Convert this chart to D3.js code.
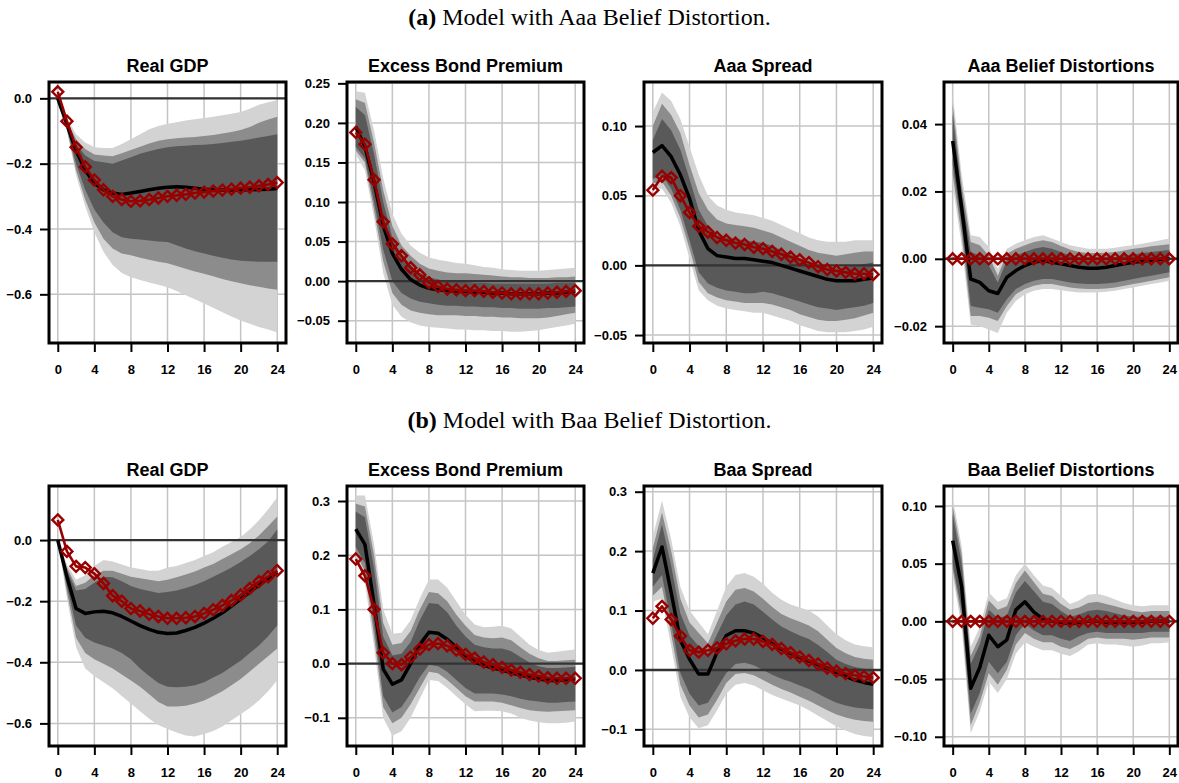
<!DOCTYPE html>
<html>
<head>
<meta charset="utf-8">
<script src="https://cdn.jsdelivr.net/npm/d3@7"></script>
<style>
  body { margin: 0; background: #fff; }
  svg text { font-family: "Liberation Sans", Arial, sans-serif; }
</style>
</head>
<body>
<script>
// horizons (quarters) and x tick labels
const horizon = d3.range(0, 25);
const xTicks = [0, 4, 8, 12, 16, 20, 24];

// ---- (a) Aaa model: Real GDP
const gdpA_model  = [0.02,-0.07,-0.15,-0.21,-0.25,-0.28,-0.30,-0.31,-0.315,-0.314,-0.31,-0.305,-0.30,-0.297,-0.294,-0.29,-0.287,-0.284,-0.281,-0.278,-0.275,-0.272,-0.268,-0.264,-0.258];
const gdpA_median = [0.0,-0.08,-0.16,-0.22,-0.26,-0.28,-0.29,-0.294,-0.29,-0.285,-0.28,-0.275,-0.272,-0.271,-0.272,-0.275,-0.278,-0.28,-0.281,-0.281,-0.28,-0.28,-0.279,-0.278,-0.276];
const gdpA_outerHi = [0,-0.06,-0.11,-0.135,-0.15,-0.152,-0.152,-0.14,-0.125,-0.11,-0.095,-0.085,-0.078,-0.073,-0.068,-0.064,-0.06,-0.056,-0.052,-0.047,-0.042,-0.032,-0.02,-0.012,-0.006];
const gdpA_midHi   = [0,-0.07,-0.125,-0.155,-0.172,-0.175,-0.177,-0.168,-0.158,-0.148,-0.138,-0.13,-0.125,-0.122,-0.12,-0.118,-0.115,-0.112,-0.108,-0.103,-0.097,-0.088,-0.075,-0.065,-0.056];
const gdpA_innerHi = [0,-0.075,-0.14,-0.175,-0.192,-0.196,-0.2,-0.19,-0.18,-0.17,-0.162,-0.155,-0.15,-0.147,-0.145,-0.143,-0.142,-0.14,-0.137,-0.133,-0.13,-0.125,-0.12,-0.115,-0.11];
const gdpA_innerLo = [0,-0.09,-0.2,-0.28,-0.34,-0.38,-0.41,-0.425,-0.43,-0.432,-0.435,-0.438,-0.44,-0.45,-0.46,-0.468,-0.475,-0.482,-0.488,-0.493,-0.497,-0.499,-0.5,-0.5,-0.5];
const gdpA_midLo   = [0,-0.095,-0.22,-0.31,-0.38,-0.43,-0.46,-0.475,-0.48,-0.488,-0.494,-0.5,-0.505,-0.513,-0.522,-0.53,-0.537,-0.545,-0.553,-0.56,-0.566,-0.572,-0.577,-0.582,-0.586];
const gdpA_outerLo = [0,-0.1,-0.235,-0.33,-0.41,-0.47,-0.51,-0.535,-0.548,-0.556,-0.564,-0.571,-0.578,-0.59,-0.603,-0.615,-0.628,-0.641,-0.655,-0.668,-0.68,-0.69,-0.7,-0.708,-0.717];
const gdpA_ticks = [-0.6, -0.4, -0.2, 0.0];

// ---- (a) Excess Bond Premium
const ebpA_model  = [0.188,0.173,0.128,0.075,0.047,0.032,0.017,0.008,-0.002,-0.007,-0.01,-0.011,-0.012,-0.012,-0.013,-0.014,-0.015,-0.016,-0.016,-0.016,-0.016,-0.015,-0.014,-0.013,-0.012];
const ebpA_median = [0.195,0.17,0.125,0.07,0.035,0.015,0.002,-0.005,-0.009,-0.011,-0.012,-0.013,-0.013,-0.014,-0.014,-0.015,-0.015,-0.016,-0.016,-0.016,-0.016,-0.015,-0.015,-0.014,-0.013];
const ebpA_outerHi = [0.24,0.238,0.19,0.13,0.085,0.06,0.045,0.036,0.03,0.027,0.025,0.023,0.022,0.02,0.018,0.017,0.015,0.014,0.013,0.013,0.013,0.014,0.015,0.016,0.017];
const ebpA_midHi   = [0.23,0.225,0.175,0.115,0.07,0.045,0.032,0.022,0.016,0.013,0.011,0.01,0.01,0.009,0.008,0.007,0.006,0.005,0.005,0.004,0.004,0.004,0.005,0.005,0.006];
const ebpA_innerHi = [0.22,0.21,0.16,0.1,0.055,0.032,0.02,0.01,0.005,0.002,0.0,-0.001,-0.001,-0.002,-0.002,-0.003,-0.003,-0.003,-0.003,-0.003,-0.003,-0.003,-0.002,-0.002,-0.002];
const ebpA_innerLo = [0.17,0.155,0.1,0.04,0.0,-0.015,-0.022,-0.026,-0.028,-0.03,-0.031,-0.031,-0.032,-0.032,-0.033,-0.033,-0.034,-0.034,-0.035,-0.035,-0.035,-0.034,-0.034,-0.033,-0.032];
const ebpA_midLo   = [0.165,0.15,0.09,0.025,-0.015,-0.03,-0.037,-0.04,-0.042,-0.043,-0.043,-0.043,-0.044,-0.044,-0.045,-0.045,-0.046,-0.046,-0.047,-0.047,-0.047,-0.046,-0.044,-0.042,-0.04];
const ebpA_outerLo = [0.16,0.14,0.08,0.01,-0.03,-0.045,-0.052,-0.056,-0.058,-0.059,-0.06,-0.061,-0.061,-0.062,-0.062,-0.063,-0.063,-0.064,-0.064,-0.063,-0.062,-0.06,-0.058,-0.056,-0.054];
const ebpA_ticks = [-0.05, 0.0, 0.05, 0.10, 0.15, 0.20, 0.25];

// ---- (a) Aaa Spread
const aaa_model  = [0.054,0.064,0.063,0.05,0.038,0.028,0.024,0.02,0.018,0.016,0.015,0.013,0.012,0.01,0.008,0.006,0.004,0.002,-0.001,-0.003,-0.004,-0.005,-0.006,-0.006,-0.0065];
const aaa_median = [0.081,0.086,0.078,0.065,0.048,0.025,0.012,0.007,0.006,0.005,0.005,0.004,0.003,0.002,0.0,-0.002,-0.004,-0.006,-0.008,-0.01,-0.011,-0.011,-0.011,-0.01,-0.009];
const aaa_outerHi = [0.11,0.124,0.118,0.105,0.085,0.065,0.05,0.043,0.04,0.038,0.037,0.036,0.034,0.032,0.029,0.026,0.023,0.02,0.018,0.017,0.017,0.017,0.018,0.018,0.018];
const aaa_midHi   = [0.1,0.116,0.108,0.095,0.072,0.052,0.04,0.033,0.03,0.029,0.028,0.027,0.025,0.023,0.02,0.017,0.014,0.011,0.009,0.008,0.007,0.008,0.009,0.01,0.01];
const aaa_innerHi = [0.09,0.105,0.097,0.083,0.062,0.04,0.028,0.022,0.02,0.019,0.018,0.017,0.016,0.014,0.011,0.008,0.005,0.002,0.0,-0.001,-0.002,-0.001,0.0,0.001,0.002];
const aaa_innerLo = [0.062,0.065,0.055,0.04,0.018,-0.005,-0.013,-0.016,-0.018,-0.019,-0.02,-0.02,-0.019,-0.02,-0.022,-0.024,-0.026,-0.028,-0.03,-0.031,-0.032,-0.031,-0.03,-0.029,-0.027];
const aaa_midLo   = [0.059,0.06,0.05,0.034,0.012,-0.012,-0.02,-0.023,-0.025,-0.026,-0.027,-0.027,-0.027,-0.028,-0.03,-0.032,-0.035,-0.037,-0.039,-0.04,-0.04,-0.039,-0.038,-0.036,-0.034];
const aaa_outerLo = [0.055,0.055,0.045,0.028,0.005,-0.018,-0.025,-0.029,-0.031,-0.032,-0.033,-0.034,-0.034,-0.036,-0.038,-0.04,-0.043,-0.045,-0.047,-0.048,-0.048,-0.048,-0.047,-0.046,-0.044];
const aaa_ticks = [-0.05, 0.0, 0.05, 0.10];

// ---- (a) Aaa Belief Distortions
const belA_model  = [0,0,0,0,0,0,0,0,0,0,0,0,0,0,0,0,0,0,0,0,0,0,0,0,0];
const belA_median = [0.035,0.015,-0.006,-0.007,-0.0095,-0.0103,-0.0055,-0.0035,-0.002,-0.001,-0.0005,-0.001,-0.0015,-0.002,-0.0025,-0.0028,-0.0028,-0.0025,-0.002,-0.0015,-0.001,-0.0007,-0.0004,-0.0002,0.0];
const belA_outerHi = [0.049,0.025,0.007,0.0065,0.0035,-0.003,0.003,0.0045,0.0055,0.0065,0.007,0.006,0.005,0.004,0.0035,0.003,0.003,0.003,0.0033,0.0037,0.004,0.0045,0.005,0.0055,0.006];
const belA_midHi   = [0.046,0.022,0.005,0.004,0.001,-0.005,0.0015,0.003,0.004,0.005,0.0055,0.005,0.0038,0.0028,0.002,0.0017,0.0017,0.0018,0.002,0.0025,0.003,0.0033,0.0037,0.004,0.0043];
const belA_innerHi = [0.043,0.019,0.002,0.001,-0.002,-0.007,-0.0005,0.001,0.002,0.003,0.0035,0.003,0.002,0.001,0.0003,0.0,0.0,0.0002,0.0005,0.001,0.0013,0.0017,0.002,0.0023,0.0026];
const belA_innerLo = [0.028,0.01,-0.014,-0.0145,-0.015,-0.016,-0.012,-0.009,-0.0075,-0.0065,-0.006,-0.006,-0.0065,-0.007,-0.0073,-0.0075,-0.0075,-0.0073,-0.007,-0.0065,-0.006,-0.0055,-0.005,-0.0045,-0.004];
const belA_midLo   = [0.025,0.007,-0.017,-0.017,-0.0175,-0.0185,-0.014,-0.0105,-0.009,-0.008,-0.0075,-0.0075,-0.008,-0.0085,-0.0088,-0.009,-0.009,-0.0088,-0.0085,-0.008,-0.0075,-0.007,-0.0065,-0.006,-0.0055];
const belA_outerLo = [0.022,0.004,-0.0195,-0.02,-0.021,-0.022,-0.016,-0.0125,-0.0105,-0.0095,-0.009,-0.009,-0.0093,-0.0097,-0.01,-0.01,-0.01,-0.0098,-0.0095,-0.009,-0.0085,-0.008,-0.0075,-0.007,-0.0065];
const belA_ticks = [-0.02, 0.0, 0.02, 0.04];

// ---- (b) Baa model: Real GDP
const gdpB_model  = [0.066,-0.037,-0.086,-0.09,-0.11,-0.142,-0.182,-0.2,-0.224,-0.232,-0.243,-0.25,-0.256,-0.256,-0.254,-0.25,-0.24,-0.228,-0.214,-0.198,-0.18,-0.158,-0.136,-0.12,-0.1];
const gdpB_median = [0.0,-0.12,-0.224,-0.24,-0.235,-0.233,-0.238,-0.25,-0.265,-0.28,-0.292,-0.302,-0.306,-0.304,-0.296,-0.286,-0.272,-0.256,-0.238,-0.216,-0.193,-0.17,-0.148,-0.125,-0.105];
const gdpB_outerHi = [0,-0.08,-0.13,-0.115,-0.085,-0.065,-0.07,-0.08,-0.09,-0.095,-0.1,-0.1,-0.09,-0.085,-0.075,-0.065,-0.052,-0.04,-0.022,-0.006,0.01,0.035,0.065,0.1,0.14];
const gdpB_midHi   = [0,-0.09,-0.15,-0.14,-0.115,-0.1,-0.1,-0.11,-0.12,-0.125,-0.13,-0.135,-0.13,-0.122,-0.113,-0.103,-0.09,-0.078,-0.062,-0.046,-0.03,-0.01,0.015,0.045,0.077];
const gdpB_innerHi = [0,-0.1,-0.165,-0.16,-0.14,-0.12,-0.122,-0.135,-0.15,-0.16,-0.167,-0.173,-0.17,-0.165,-0.157,-0.147,-0.135,-0.12,-0.105,-0.09,-0.072,-0.052,-0.03,-0.005,0.035];
const gdpB_innerLo = [0,-0.15,-0.28,-0.32,-0.335,-0.345,-0.355,-0.37,-0.39,-0.42,-0.445,-0.468,-0.48,-0.482,-0.48,-0.475,-0.465,-0.45,-0.435,-0.415,-0.395,-0.37,-0.345,-0.315,-0.28];
const gdpB_midLo   = [0,-0.17,-0.32,-0.37,-0.39,-0.405,-0.42,-0.44,-0.46,-0.48,-0.505,-0.53,-0.545,-0.545,-0.542,-0.535,-0.525,-0.51,-0.495,-0.475,-0.455,-0.43,-0.405,-0.38,-0.355];
const gdpB_outerLo = [0,-0.19,-0.35,-0.42,-0.445,-0.465,-0.485,-0.51,-0.535,-0.56,-0.585,-0.605,-0.618,-0.63,-0.64,-0.643,-0.635,-0.625,-0.61,-0.59,-0.57,-0.55,-0.525,-0.495,-0.46];
const gdpB_ticks = [-0.6, -0.4, -0.2, 0.0];

// ---- (b) Excess Bond Premium
const ebpB_model  = [0.193,0.162,0.1,0.02,0.0,-0.002,0.012,0.027,0.035,0.037,0.033,0.025,0.017,0.01,0.003,-0.002,-0.007,-0.012,-0.016,-0.02,-0.023,-0.026,-0.027,-0.027,-0.027];
const ebpB_median = [0.248,0.22,0.11,-0.01,-0.038,-0.03,0.0,0.035,0.058,0.056,0.045,0.03,0.015,0.003,-0.003,-0.008,-0.012,-0.017,-0.021,-0.025,-0.028,-0.031,-0.031,-0.03,-0.028];
const ebpB_outerHi = [0.31,0.31,0.22,0.1,0.055,0.057,0.08,0.12,0.155,0.155,0.14,0.115,0.09,0.072,0.067,0.068,0.07,0.065,0.05,0.035,0.025,0.02,0.022,0.024,0.026];
const ebpB_midHi   = [0.295,0.29,0.2,0.075,0.035,0.038,0.06,0.1,0.132,0.13,0.115,0.09,0.07,0.053,0.048,0.047,0.048,0.043,0.03,0.018,0.01,0.005,0.005,0.006,0.007];
const ebpB_innerHi = [0.28,0.27,0.175,0.05,0.015,0.018,0.04,0.08,0.112,0.11,0.095,0.07,0.05,0.035,0.03,0.028,0.028,0.023,0.012,0.002,-0.005,-0.008,-0.008,-0.007,-0.006];
const ebpB_innerLo = [0.215,0.185,0.07,-0.06,-0.09,-0.08,-0.055,-0.025,-0.002,-0.005,-0.015,-0.03,-0.045,-0.055,-0.055,-0.055,-0.057,-0.06,-0.065,-0.068,-0.07,-0.072,-0.072,-0.071,-0.07];
const ebpB_midLo   = [0.205,0.17,0.05,-0.08,-0.11,-0.1,-0.075,-0.045,-0.015,-0.018,-0.03,-0.045,-0.06,-0.07,-0.07,-0.07,-0.072,-0.077,-0.082,-0.086,-0.088,-0.089,-0.088,-0.087,-0.086];
const ebpB_outerLo = [0.19,0.15,0.03,-0.1,-0.133,-0.125,-0.1,-0.065,-0.03,-0.032,-0.045,-0.06,-0.075,-0.088,-0.087,-0.087,-0.088,-0.092,-0.1,-0.105,-0.108,-0.11,-0.11,-0.109,-0.107];
const ebpB_ticks = [-0.1, 0.0, 0.1, 0.2, 0.3];

// ---- (b) Baa Spread
const baa_model  = [0.087,0.107,0.085,0.057,0.033,0.03,0.033,0.037,0.044,0.049,0.052,0.052,0.048,0.043,0.036,0.029,0.022,0.016,0.01,0.003,-0.002,-0.006,-0.009,-0.011,-0.013];
const baa_median = [0.163,0.207,0.13,0.05,0.018,-0.007,-0.007,0.03,0.058,0.066,0.066,0.062,0.054,0.044,0.035,0.028,0.021,0.015,0.009,0.003,-0.004,-0.011,-0.017,-0.021,-0.024];
const baa_outerHi = [0.225,0.285,0.22,0.14,0.1,0.08,0.06,0.1,0.14,0.16,0.163,0.157,0.145,0.13,0.118,0.11,0.105,0.1,0.09,0.075,0.06,0.05,0.043,0.04,0.038];
const baa_midHi   = [0.205,0.265,0.2,0.12,0.08,0.062,0.045,0.08,0.115,0.135,0.138,0.132,0.12,0.106,0.094,0.087,0.081,0.075,0.065,0.051,0.037,0.028,0.022,0.019,0.017];
const baa_innerHi = [0.185,0.245,0.175,0.095,0.058,0.04,0.028,0.06,0.092,0.11,0.115,0.11,0.098,0.085,0.073,0.065,0.058,0.052,0.042,0.03,0.017,0.01,0.005,0.002,0.0];
const baa_innerLo = [0.14,0.16,0.08,-0.005,-0.04,-0.06,-0.055,-0.03,-0.005,0.01,0.012,0.008,0.0,-0.008,-0.015,-0.02,-0.026,-0.032,-0.04,-0.048,-0.055,-0.06,-0.063,-0.065,-0.066];
const baa_midLo   = [0.125,0.14,0.06,-0.025,-0.06,-0.08,-0.075,-0.05,-0.022,-0.007,-0.005,-0.009,-0.017,-0.025,-0.032,-0.038,-0.045,-0.052,-0.06,-0.068,-0.075,-0.08,-0.084,-0.086,-0.087];
const baa_outerLo = [0.115,0.12,0.04,-0.045,-0.08,-0.098,-0.093,-0.068,-0.04,-0.025,-0.022,-0.026,-0.034,-0.042,-0.048,-0.054,-0.06,-0.068,-0.077,-0.086,-0.095,-0.102,-0.108,-0.111,-0.113];
const baa_ticks = [-0.1, 0.0, 0.1, 0.2, 0.3];

// ---- (b) Baa Belief Distortions
const belB_model  = [0,0,0,0,0,0,0,0,0,0,0,0,0,0,0,0,0,0,0,0,0,0,0,0,0];
const belB_median = [0.07,0.03,-0.058,-0.04,-0.012,-0.022,-0.016,0.01,0.017,0.008,0.002,0.0,-0.001,-0.002,-0.001,0.0,0.0,-0.001,-0.001,-0.001,-0.001,-0.0005,0.0,0.0,0.0];
const belB_outerHi = [0.107,0.065,-0.022,-0.005,0.025,0.017,0.02,0.04,0.05,0.04,0.031,0.029,0.022,0.015,0.018,0.023,0.024,0.022,0.019,0.016,0.014,0.013,0.014,0.014,0.014];
const belB_midHi   = [0.1,0.058,-0.03,-0.013,0.018,0.01,0.013,0.033,0.044,0.034,0.024,0.022,0.015,0.01,0.012,0.016,0.017,0.015,0.013,0.011,0.009,0.008,0.009,0.009,0.009];
const belB_innerHi = [0.093,0.05,-0.037,-0.02,0.01,0.003,0.005,0.025,0.035,0.026,0.017,0.015,0.009,0.004,0.006,0.009,0.01,0.009,0.007,0.005,0.004,0.004,0.004,0.004,0.004];
const belB_innerLo = [0.05,0.01,-0.08,-0.062,-0.035,-0.045,-0.035,-0.012,-0.002,-0.008,-0.012,-0.012,-0.015,-0.017,-0.013,-0.01,-0.009,-0.01,-0.01,-0.01,-0.01,-0.01,-0.009,-0.009,-0.009];
const belB_midLo   = [0.045,0.003,-0.09,-0.07,-0.045,-0.055,-0.042,-0.02,-0.01,-0.015,-0.018,-0.018,-0.022,-0.024,-0.02,-0.015,-0.014,-0.015,-0.015,-0.015,-0.016,-0.015,-0.014,-0.014,-0.014];
const belB_outerLo = [0.04,-0.005,-0.097,-0.078,-0.052,-0.062,-0.05,-0.028,-0.018,-0.022,-0.025,-0.025,-0.028,-0.03,-0.026,-0.02,-0.019,-0.02,-0.02,-0.021,-0.022,-0.021,-0.019,-0.019,-0.018];
const belB_ticks = [-0.10, -0.05, 0.0, 0.05, 0.10];

const captions = [
  { bold: "(a)", rest: " Model with Aaa Belief Distortion." },
  { bold: "(b)", rest: " Model with Baa Belief Distortion." }
];

// panel table built from the arrays above
const panels = [
  { row: 0, col: 0, title: "Real GDP", ticks: gdpA_ticks, fmt: ".1f", dom: [-0.749, 0.05],
    model: gdpA_model, median: gdpA_median,
    bands: [[gdpA_outerLo, gdpA_outerHi], [gdpA_midLo, gdpA_midHi], [gdpA_innerLo, gdpA_innerHi]] },
  { row: 0, col: 1, title: "Excess Bond Premium", ticks: ebpA_ticks, fmt: ".2f", dom: [-0.0782, 0.2517],
    model: ebpA_model, median: ebpA_median,
    bands: [[ebpA_outerLo, ebpA_outerHi], [ebpA_midLo, ebpA_midHi], [ebpA_innerLo, ebpA_innerHi]] },
  { row: 0, col: 2, title: "Aaa Spread", ticks: aaa_ticks, fmt: ".2f", dom: [-0.0557, 0.1316],
    model: aaa_model, median: aaa_median,
    bands: [[aaa_outerLo, aaa_outerHi], [aaa_midLo, aaa_midHi], [aaa_innerLo, aaa_innerHi]] },
  { row: 0, col: 3, title: "Aaa Belief Distortions", ticks: belA_ticks, fmt: ".2f", dom: [-0.025, 0.0525],
    model: belA_model, median: belA_median,
    bands: [[belA_outerLo, belA_outerHi], [belA_midLo, belA_midHi], [belA_innerLo, belA_innerHi]] },
  { row: 1, col: 0, title: "Real GDP", ticks: gdpB_ticks, fmt: ".1f", dom: [-0.674, 0.177],
    model: gdpB_model, median: gdpB_median,
    bands: [[gdpB_outerLo, gdpB_outerHi], [gdpB_midLo, gdpB_midHi], [gdpB_innerLo, gdpB_innerHi]] },
  { row: 1, col: 1, title: "Excess Bond Premium", ticks: ebpB_ticks, fmt: ".1f", dom: [-0.152, 0.3277],
    model: ebpB_model, median: ebpB_median,
    bands: [[ebpB_outerLo, ebpB_outerHi], [ebpB_midLo, ebpB_midHi], [ebpB_innerLo, ebpB_innerHi]] },
  { row: 1, col: 2, title: "Baa Spread", ticks: baa_ticks, fmt: ".1f", dom: [-0.128, 0.3096],
    model: baa_model, median: baa_median,
    bands: [[baa_outerLo, baa_outerHi], [baa_midLo, baa_midHi], [baa_innerLo, baa_innerHi]] },
  { row: 1, col: 3, title: "Baa Belief Distortions", ticks: belB_ticks, fmt: ".2f", dom: [-0.108, 0.1173],
    model: belB_model, median: belB_median,
    bands: [[belB_outerLo, belB_outerHi], [belB_midLo, belB_midHi], [belB_innerLo, belB_innerHi]] }
];

// layout (pixels)
const W = 1179, H = 783;
const boxLeft = [49, 347, 644, 944];
const boxW = [237, 237, 238, 234];
const boxTop = [82, 486];
const boxH = [261, 260];
const captionY = [25, 428];
const bandFill = ["#d3d3d3", "#8c8c8c", "#595959"];
const red = "#990000";

const svg = d3.select("body").append("svg")
  .attr("width", W).attr("height", H);

captions.forEach((c, i) => {
  const t = svg.append("text")
    .attr("x", W / 2).attr("y", captionY[i])
    .attr("text-anchor", "middle")
    .style("font-family", "'Liberation Serif', 'Times New Roman', serif")
    .style("font-size", "24px");
  t.append("tspan").style("font-weight", "bold").text(c.bold);
  t.append("tspan").text(c.rest);
});

panels.forEach((p, i) => {
  const L = boxLeft[p.col], T = boxTop[p.row], w = boxW[p.col], h = boxH[p.row];
  const x = d3.scaleLinear().domain([-0.96, 24.96]).range([L, L + w]);
  const y = d3.scaleLinear().domain(p.dom).range([T + h, T]);
  const g = svg.append("g");

  g.append("clipPath").attr("id", "clip" + i)
    .append("rect").attr("x", L).attr("y", T).attr("width", w).attr("height", h);
  const plot = g.append("g").attr("clip-path", `url(#clip${i})`);

  // grid
  plot.selectAll(".vg").data(xTicks).join("line")
    .attr("x1", d => x(d)).attr("x2", d => x(d))
    .attr("y1", T).attr("y2", T + h)
    .attr("stroke", "#c4c4c4").attr("stroke-width", 1.5);
  plot.selectAll(".hg").data(p.ticks).join("line")
    .attr("x1", L).attr("x2", L + w)
    .attr("y1", d => y(d)).attr("y2", d => y(d))
    .attr("stroke", "#c4c4c4").attr("stroke-width", 1.5);

  // bands
  p.bands.forEach((b, k) => {
    const area = d3.area()
      .x(d => x(d))
      .y0(d => y(b[0][d]))
      .y1(d => y(b[1][d]));
    plot.append("path").datum(horizon)
      .attr("d", area).attr("fill", bandFill[k]);
  });

  // zero line
  plot.append("line")
    .attr("x1", L).attr("x2", L + w)
    .attr("y1", y(0)).attr("y2", y(0))
    .attr("stroke", "#333").attr("stroke-width", 2.4);

  // median
  const line = arr => d3.line().x(d => x(d)).y(d => y(arr[d]));
  plot.append("path").datum(horizon)
    .attr("d", line(p.median))
    .attr("fill", "none").attr("stroke", "#000")
    .attr("stroke-width", 3.5).attr("stroke-linejoin", "round");

  // model line + diamonds
  plot.append("path").datum(horizon)
    .attr("d", line(p.model))
    .attr("fill", "none").attr("stroke", red)
    .attr("stroke-width", 2.6).attr("stroke-linejoin", "round");
  const r = 5.5;
  plot.selectAll(".dm").data(horizon).join("path")
    .attr("d", `M0,${-r}L${r},0L0,${r}L${-r},0Z`)
    .attr("transform", d => `translate(${x(d)},${y(p.model[d])})`)
    .attr("fill", "none").attr("stroke", red).attr("stroke-width", 2.4);

  // box
  g.append("rect")
    .attr("x", L).attr("y", T).attr("width", w).attr("height", h)
    .attr("fill", "none").attr("stroke", "#000").attr("stroke-width", 3);

  // axes
  const xa = g.append("g").attr("transform", `translate(0,${T + h})`)
    .call(d3.axisBottom(x).tickValues(xTicks).tickSize(9).tickPadding(13).tickFormat(d3.format("d")));
  const ya = g.append("g").attr("transform", `translate(${L},0)`)
    .call(d3.axisLeft(y).tickValues(p.ticks).tickSize(9).tickPadding(8).tickFormat(d3.format(p.fmt)));
  [xa, ya].forEach(a => {
    a.select(".domain").remove();
    a.selectAll("line").attr("stroke", "#000").attr("stroke-width", 2);
    a.selectAll("text")
      .style("font-family", "'Liberation Sans', Arial, sans-serif")
      .style("font-size", "13px").style("font-weight", "bold").attr("fill", "#000");
  });

  // title
  g.append("text")
    .attr("x", L + w / 2).attr("y", T - 10)
    .attr("text-anchor", "middle")
    .style("font-size", "18px").style("font-weight", "bold")
    .text(p.title);
});
</script>
</body>
</html>
